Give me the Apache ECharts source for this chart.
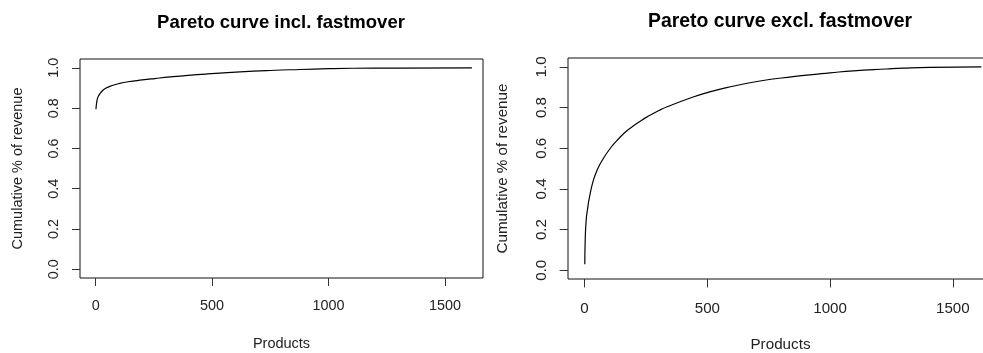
<!DOCTYPE html>
<html>
<head>
<meta charset="utf-8">
<script src="https://cdn.jsdelivr.net/npm/echarts@6/dist/echarts.min.js"></script>
<style>
  html, body { margin: 0; padding: 0; background: #fff; }
  #chart { width: 983px; height: 353px; }
</style>
</head>
<body>
<div id="chart"></div>
<script>
// cumulative share of revenue
var xIncl = [1, 5, 10, 20, 31, 45, 67, 100, 139, 200, 254, 320, 397, 480, 620, 750, 878, 1000, 1100, 1300, 1616];
var yIncl = [0.795, 0.835, 0.856, 0.875, 0.889, 0.900, 0.911, 0.922, 0.931, 0.940, 0.947, 0.955, 0.963, 0.970, 0.980, 0.987, 0.992, 0.996, 0.998, 0.999, 1.0];

var xExcl = [1, 2.5, 6.5, 12, 20, 36, 54, 74, 108, 140, 176, 244, 307, 336, 442, 500, 578, 714, 849, 958, 1000, 1094, 1230, 1297, 1406, 1616];
var yExcl = [0.03, 0.148, 0.246, 0.30, 0.36, 0.443, 0.50, 0.545, 0.605, 0.648, 0.69, 0.747, 0.788, 0.804, 0.852, 0.874, 0.898, 0.931, 0.952, 0.966, 0.971, 0.981, 0.990, 0.994, 0.998, 1.0];

var xTicks = [0, 500, 1000, 1500];
var yTicks = [0, 0.2, 0.4, 0.6, 0.8, 1.0];
var titles = ['Pareto curve incl. fastmover', 'Pareto curve excl. fastmover'];

var font = "'Liberation Sans', Arial, sans-serif";

function zip(xs, ys) {
  return xs.map(function (x, i) { return [x, ys[i]]; });
}

// k = scale of the panel (the right one is drawn a bit larger)
function xAxisFor(idx, k, gap) {
  return {
    type: 'value', gridIndex: idx, min: -67.5, max: 1663.5,
    name: 'Products', nameLocation: 'middle', nameGap: gap,
    nameTextStyle: { fontFamily: font, fontSize: 14.5 * k, color: '#222' },
    axisLine: { show: false, onZero: false },
    axisTick: { show: true, length: 8 * k, lineStyle: { color: '#333' }, customValues: xTicks },
    axisLabel: {
      fontFamily: font, fontSize: 14.4 * k, color: '#222', margin: 21 * k,
      customValues: xTicks,
      formatter: function (v) { return String(v); }
    },
    splitLine: { show: false }
  };
}

function yAxisFor(idx, k, gap) {
  return {
    type: 'value', gridIndex: idx, min: -0.043, max: 1.044,
    name: 'Cumulative % of revenue', nameLocation: 'middle', nameGap: gap,
    nameTextStyle: { fontFamily: font, fontSize: 14.5 * k, color: '#222' },
    axisLine: { show: false, onZero: false },
    axisTick: { show: true, length: 8 * k, lineStyle: { color: '#333' }, customValues: yTicks },
    axisLabel: {
      fontFamily: font, fontSize: 14.4 * k, color: '#222', margin: 19, rotate: 90,
      customValues: yTicks,
      formatter: function (v) { return v.toFixed(1); }
    },
    splitLine: { show: false }
  };
}

var lineStyle = { color: '#000', width: 1.2 };

var myChart = echarts.init(document.getElementById('chart'), null, { renderer: 'canvas' });
myChart.setOption({
  animation: false,
  backgroundColor: '#fff',
  title: [
    { text: titles[0], left: 281, top: 13, padding: 0, textAlign: 'center',
      textStyle: { fontFamily: font, fontSize: 18.5, fontWeight: 'bold', color: '#000' } },
    { text: titles[1], left: 780, top: 12, padding: 0, textAlign: 'center',
      textStyle: { fontFamily: font, fontSize: 19.4, fontWeight: 'bold', color: '#000' } }
  ],
  grid: [
    { left: 80, top: 59, width: 403, height: 219, show: true, borderColor: '#111', borderWidth: 1,
      outerBoundsMode: 'none', containLabel: false },
    { left: 568, top: 58, width: 425, height: 221, show: true, borderColor: '#111', borderWidth: 1,
      outerBoundsMode: 'none', containLabel: false }
  ],
  xAxis: [xAxisFor(0, 1, 58), xAxisFor(1, 1.05, 58)],
  yAxis: [yAxisFor(0, 1, 55), yAxisFor(1, 1.05, 58)],
  series: [
    { type: 'line', xAxisIndex: 0, yAxisIndex: 0, data: zip(xIncl, yIncl),
      showSymbol: false, smooth: 0.5, lineStyle: lineStyle },
    { type: 'line', xAxisIndex: 1, yAxisIndex: 1, data: zip(xExcl, yExcl),
      showSymbol: false, smooth: 0.5, lineStyle: lineStyle }
  ]
});
</script>
</body>
</html>
